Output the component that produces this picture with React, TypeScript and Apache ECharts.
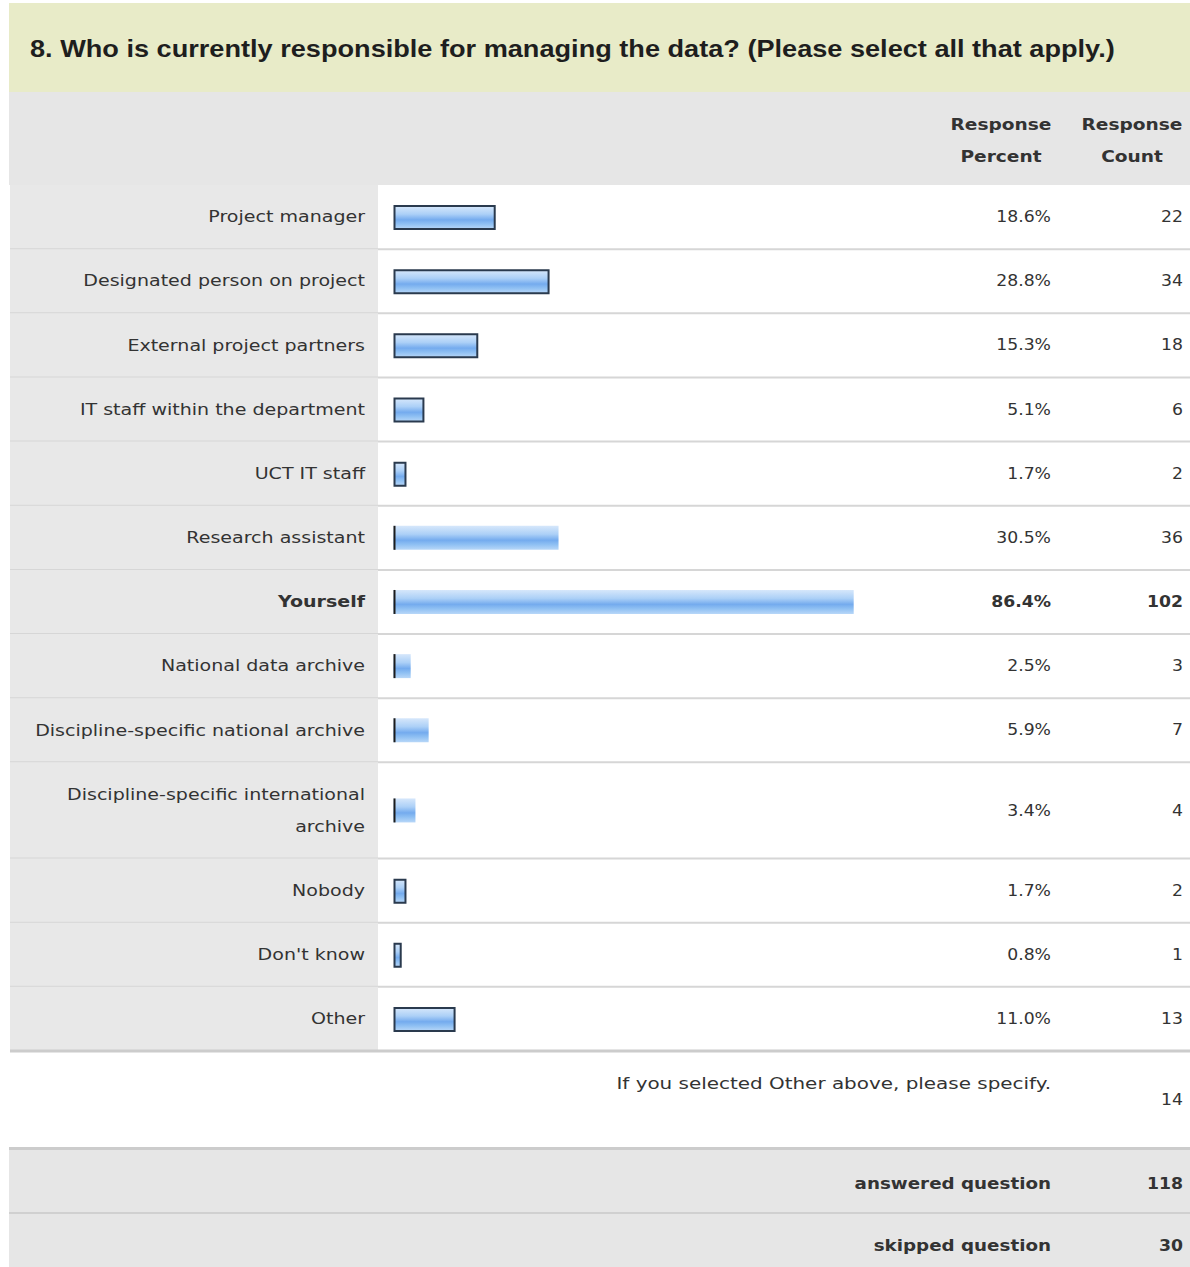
import React, { useEffect, useRef } from "react";
import * as echarts from "echarts";

// ---------- data ----------
const TITLE = "8. Who is currently responsible for managing the data? (Please select all that apply.)";
const categories = [
  "Project manager",
  "Designated person on project",
  "External project partners",
  "IT staff within the department",
  "UCT IT staff",
  "Research assistant",
  "Yourself",
  "National data archive",
  "Discipline-specific national archive",
  "Discipline-specific international\narchive",
  "Nobody",
  "Don't know",
  "Other",
];
const percents = [18.6, 28.8, 15.3, 5.1, 1.7, 30.5, 86.4, 2.5, 5.9, 3.4, 1.7, 0.8, 11.0];
const counts = [22, 34, 18, 6, 2, 36, 102, 3, 7, 4, 2, 1, 13];
const headerPercent = "Response\nPercent";
const headerCount = "Response\nCount";
const otherSpecifyLabel = "If you selected Other above, please specify.";
const otherSpecifyCount = 14;
const answeredLabel = "answered question";
const answeredCount = 118;
const skippedLabel = "skipped question";
const skippedCount = 30;

// ---------- layout / style ----------
const ROW_SPANS = [1, 1, 1, 1, 1, 1, 1, 1, 1, 1.5, 1, 1, 1];
const OUTLINED = [true, true, true, true, true, false, false, false, false, false, true, true, true];
const W = 1190;
const H = 1267;
const FONT = "DejaVu Sans";
const TXT = "#333333";
const LABEL_SX = 1.27;
const NUM_SX = 1.15;

export default function App() {
  const ref = useRef<HTMLDivElement>(null);

  useEffect(() => {
    if (!ref.current) return;
    const chart = echarts.init(ref.current, undefined, { renderer: "svg", width: W, height: H });

    const starts: number[] = [];
    let acc = 0;
    ROW_SPANS.forEach((s) => {
      starts.push(acc);
      acc += s;
    });
    const total = acc;
    const maxIdx = percents.indexOf(Math.max(...percents));
    const last = categories.length - 1;

    const barGradient = () =>
      new echarts.graphic.LinearGradient(0, 0, 0, 1, [
        { offset: 0, color: "#d6e7fb" },
        { offset: 0.35, color: "#acd0f7" },
        { offset: 0.6, color: "#74abee" },
        { offset: 0.78, color: "#8fc0f3" },
        { offset: 1, color: "#b8d7f8" },
      ]);

    const renderItem = (params: any, api: any) => {
      const i = params.dataIndex;
      const val = api.value(0);
      const top = starts[i];
      const span = ROW_SPANS[i];
      const yTop = api.coord([0, top])[1];
      const yBot = api.coord([0, top + span])[1];
      const yc = (yTop + yBot) / 2;
      const x0 = api.coord([0, top])[0] - 4;
      const x1 = api.coord([val, top])[0];
      const bold = i === maxIdx;
      const children: any[] = [
        {
          type: "rect",
          shape: { x: 10, y: yTop, width: 368, height: yBot - yTop },
          style: { fill: "#e8e8e8" },
        },
        {
          type: "line",
          shape: { x1: 10, y1: yBot, x2: W, y2: yBot },
          style: { stroke: i === last ? "#cccccc" : "#d6d6d6", lineWidth: i === last ? 3 : 2 },
        },
      ];
      if (OUTLINED[i]) {
        children.push({
          type: "rect",
          shape: { x: x0 + 1, y: yc - 11, width: x1 - x0 - 2, height: 23 },
          style: { fill: barGradient(), stroke: "#2a3a4e", lineWidth: 2 },
        });
      } else {
        children.push({
          type: "rect",
          shape: { x: x0, y: yc - 12, width: x1 - x0, height: 24 },
          style: { fill: barGradient() },
        });
        children.push({
          type: "line",
          shape: { x1: x0 + 1, y1: yc - 12, x2: x0 + 1, y2: yc + 12 },
          style: { stroke: "#1c1c1c", lineWidth: 2 },
        });
      }
      children.push(
        {
          type: "text",
          x: 365,
          y: yc,
          scaleX: LABEL_SX,
          style: {
            text: categories[i],
            align: "right",
            verticalAlign: "middle",
            lineHeight: 32,
            fontFamily: FONT,
            fontSize: 15,
            fontWeight: bold ? "bold" : "normal",
            fill: TXT,
          },
        },
        {
          type: "text",
          x: 1051,
          y: yc,
          scaleX: NUM_SX,
          style: {
            text: percents[i].toFixed(1) + "%",
            align: "right",
            verticalAlign: "middle",
            fontFamily: FONT,
            fontSize: 15,
            fontWeight: bold ? "bold" : "normal",
            fill: TXT,
          },
        },
        {
          type: "text",
          x: 1183,
          y: yc,
          scaleX: NUM_SX,
          style: {
            text: String(counts[i]),
            align: "right",
            verticalAlign: "middle",
            fontFamily: FONT,
            fontSize: 15,
            fontWeight: bold ? "bold" : "normal",
            fill: TXT,
          },
        }
      );
      return { type: "group", children };
    };

    const txt = (text: string, x: number, y: number, opts: any = {}) => ({
      type: "text",
      x,
      y,
      scaleX: opts.scaleX ?? LABEL_SX,
      style: {
        text,
        align: opts.align ?? "right",
        verticalAlign: "middle",
        lineHeight: opts.lineHeight ?? 20,
        fontFamily: opts.fontFamily ?? FONT,
        fontSize: opts.fontSize ?? 15,
        fontWeight: opts.fontWeight ?? "normal",
        fill: opts.fill ?? TXT,
      },
    });

    chart.setOption({
      animation: false,
      grid: { left: 397.5, top: 185, width: 528, height: 866 },
      xAxis: { type: "value", min: 0, max: 100, show: false },
      yAxis: { type: "value", min: 0, max: total, inverse: true, show: false },
      graphic: [
        { type: "rect", shape: { x: 9, y: 3, width: W - 9, height: 89 }, style: { fill: "#e8ebc8" } },
        { type: "rect", shape: { x: 9, y: 92, width: W - 9, height: 93 }, style: { fill: "#e6e6e6" } },
        txt(TITLE, 30, 49, {
          align: "left",
          scaleX: 1.18,
          fontFamily: "Liberation Sans",
          fontSize: 23,
          fontWeight: "bold",
          fill: "#1e1e1e",
        }),
        txt(headerPercent, 1001, 141, { align: "center", lineHeight: 32, fontWeight: "bold", scaleX: 1.24 }),
        txt(headerCount, 1132, 141, { align: "center", lineHeight: 32, fontWeight: "bold", scaleX: 1.24 }),
        txt(otherSpecifyLabel, 1051, 1084, { scaleX: 1.33 }),
        txt(String(otherSpecifyCount), 1183, 1100, { scaleX: NUM_SX }),
        { type: "rect", shape: { x: 9, y: 1149, width: W - 9, height: H - 1149 }, style: { fill: "#e6e6e6" } },
        { type: "line", shape: { x1: 9, y1: 1148.5, x2: W, y2: 1148.5 }, style: { stroke: "#cccccc", lineWidth: 3 } },
        { type: "line", shape: { x1: 9, y1: 1213, x2: W, y2: 1213 }, style: { stroke: "#d0d0d0", lineWidth: 2 } },
        txt(answeredLabel, 1051, 1184, { fontWeight: "bold", scaleX: 1.22 }),
        txt(String(answeredCount), 1183, 1184, { fontWeight: "bold", scaleX: NUM_SX }),
        txt(skippedLabel, 1051, 1246, { fontWeight: "bold", scaleX: 1.22 }),
        txt(String(skippedCount), 1183, 1246, { fontWeight: "bold", scaleX: NUM_SX }),
      ],
      series: [
        {
          type: "custom",
          coordinateSystem: "cartesian2d",
          clip: false,
          renderItem,
          encode: { x: 0, y: 1 },
          data: percents.map((p, i) => [p, i]),
          z: 5,
        },
      ],
    });

    return () => chart.dispose();
  }, []);

  return (
    <div
      ref={ref}
      style={{ position: "absolute", left: 0, top: 0, width: W, height: H, background: "#ffffff" }}
    />
  );
}
